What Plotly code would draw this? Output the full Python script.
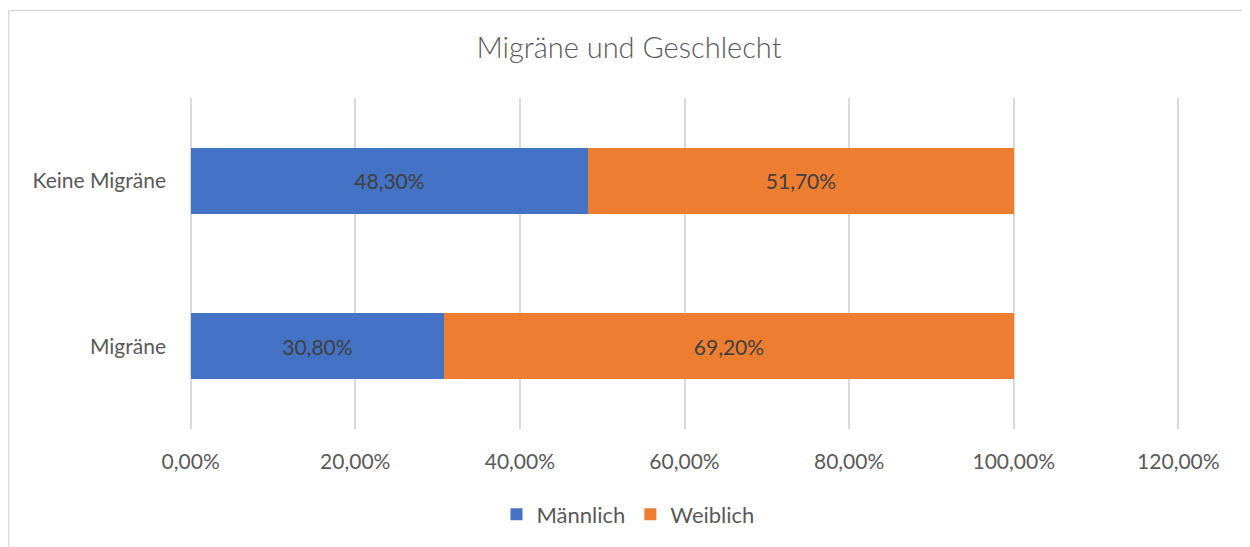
import plotly.graph_objects as go

categories = ["Migräne", "Keine Migräne"]
maennlich = [0.308, 0.483]
weiblich = [0.692, 0.517]
x_ticks = [0, 0.2, 0.4, 0.6, 0.8, 1.0, 1.2]

text_color = "#595959"
font_family = "Lato, 'Open Sans', sans-serif"

fig = go.Figure()

fig.add_trace(
    go.Bar(
        y=categories,
        x=maennlich,
        name="Männlich",
        orientation="h",
        marker=dict(color="#4472C4", line=dict(width=0)),
        texttemplate="%{x:.2%}",
        textposition="inside",
        insidetextanchor="middle",
        textfont=dict(color="#404040", size=21, family=font_family),
    )
)
fig.add_trace(
    go.Bar(
        y=categories,
        x=weiblich,
        name="Weiblich",
        orientation="h",
        marker=dict(color="#ED7D31", line=dict(width=0)),
        texttemplate="%{x:.2%}",
        textposition="inside",
        insidetextanchor="middle",
        textfont=dict(color="#404040", size=21, family=font_family),
    )
)

# chart frame
fig.add_shape(
    type="rect",
    xref="paper",
    yref="paper",
    x0=-0.1821,
    x1=1.0696,
    y0=-0.5,
    y1=1.264,
    line=dict(color="#d9d9d9", width=1.5),
    fillcolor="rgba(0,0,0,0)",
    layer="below",
)

# page body has an 8px margin, so the figure is sized to fit the window
fig.update_layout(
    barmode="stack",
    bargap=0.6,
    separators=",.",
    width=1242,
    height=539,
    paper_bgcolor="white",
    plot_bgcolor="white",
    font=dict(family=font_family, color=text_color, size=21),
    title=dict(
        text="Migräne und Geschlecht",
        x=0.5,
        xanchor="center",
        y=0.926,
        yanchor="middle",
        font=dict(size=29, color=text_color, family=font_family, weight=300),
    ),
    margin=dict(l=181, r=70, t=90, b=116),
    legend=dict(
        orientation="h",
        x=0.443,
        xanchor="center",
        y=-0.258,
        yanchor="middle",
        font=dict(size=22, color=text_color),
        traceorder="normal",
    ),
    showlegend=True,
)

fig.update_xaxes(
    range=[-0.002, 1.202],
    tickvals=x_ticks,
    tickformat=".2%",
    showgrid=True,
    gridcolor="#d9d9d9",
    gridwidth=1.5,
    zeroline=False,
    showline=False,
    ticks="",
    ticklabelstandoff=18,
    tickfont=dict(size=21, color=text_color),
)
fig.update_yaxes(
    categoryorder="array",
    categoryarray=categories,
    showgrid=False,
    zeroline=False,
    showline=False,
    ticks="",
    ticklabelstandoff=22,
    tickfont=dict(size=21, color=text_color),
)

fig.write_html("out.html")
